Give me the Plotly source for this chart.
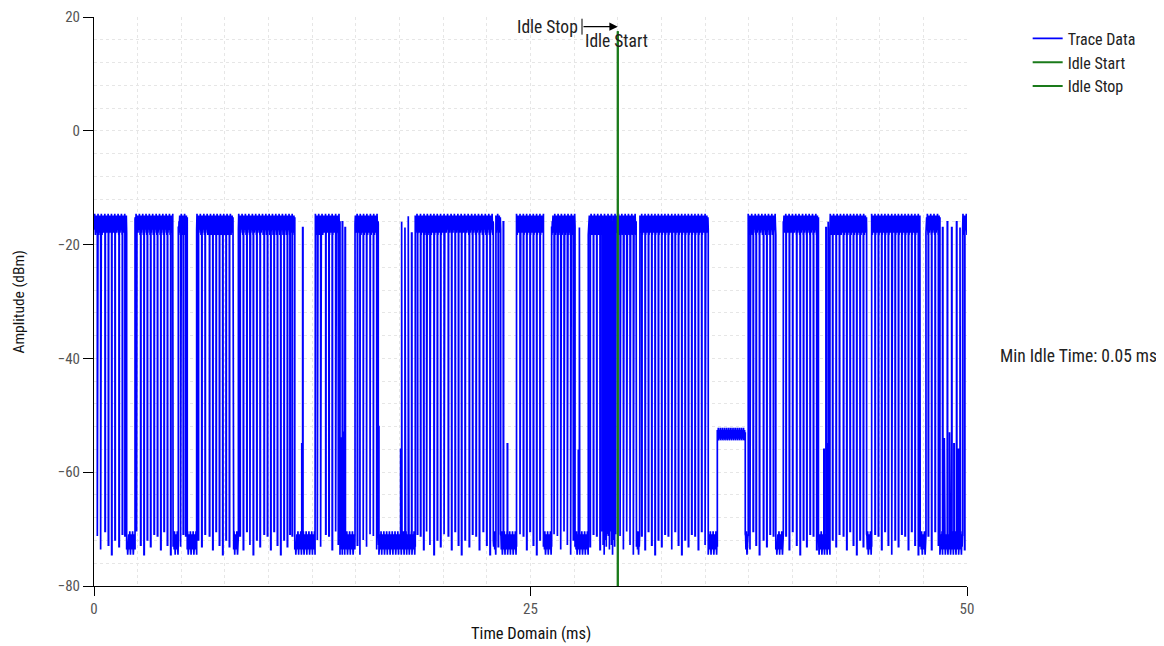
import plotly.graph_objects as go

# ---- data (time in ms, level in dBm) ----
burst_start = [0.00, 2.35, 4.83, 5.88, 8.27, 12.66, 14.95, 18.40, 23.02, 24.20,
               26.21, 28.31, 31.25, 37.47, 39.48, 42.15, 44.54, 47.65, 49.75]
burst_end   = [1.87, 4.51, 5.34, 7.96, 11.50, 14.09, 16.28, 22.87, 23.29, 25.74,
               27.55, 31.05, 35.18, 39.05, 41.49, 44.25, 47.30, 48.45, 50.00]

# short drops to the floor inside the bursts
dips = [0.19, 0.38, 0.63, 0.82, 1.01, 1.20, 1.43, 1.62, 1.77,
        2.44, 2.67, 2.86, 3.05, 3.24, 3.44, 3.63, 3.82, 4.01, 4.20, 4.39,
        4.96, 5.11, 5.25,
        5.97, 6.17, 6.36, 6.61, 6.80, 6.99, 7.18, 7.37, 7.56, 7.75,
        8.36, 8.55, 8.75, 8.93, 9.12, 9.32, 9.51, 9.74, 9.93, 10.12, 10.31,
        10.50, 10.69, 10.88, 11.07, 11.22, 11.35,
        12.79, 12.98, 13.27, 13.45, 13.64, 13.84, 13.99,
        15.08, 15.23, 15.42, 15.61, 15.81, 16.00, 16.19,
        18.52, 18.70, 18.88, 19.05, 19.24, 19.47, 19.66, 19.85, 20.05, 20.29,
        20.48, 20.68, 20.87, 21.05, 21.25, 21.49, 21.68, 21.88, 22.07, 22.29,
        22.49, 22.68,
        23.15,
        24.40, 24.59, 24.78, 24.97, 25.16, 25.35, 25.54,
        26.35, 26.54, 26.73, 26.92, 27.11, 27.30, 27.45,
        28.41, 28.60, 28.79, 28.98, 29.10, 29.16, 29.22, 29.28, 29.34, 29.40,
        29.46, 29.52, 29.58, 29.64, 29.70, 29.76, 29.82, 29.88, 30.13, 30.32,
        30.51, 30.70, 30.89,
        31.37, 31.56, 31.75, 31.94, 32.13, 32.32, 32.51, 32.70, 32.89, 33.09,
        33.28, 33.47, 33.66, 33.85, 34.04, 34.23, 34.42, 34.61, 34.80, 35.00,
        37.57, 37.75, 37.92, 38.11, 38.34, 38.53, 38.72, 38.91,
        39.63, 39.82, 40.01, 40.24, 40.44, 40.63, 40.82, 41.01, 41.20, 41.39,
        42.30, 42.50, 42.69, 42.92, 43.11, 43.30, 43.49, 43.68, 43.87, 44.06,
        44.73, 44.92, 45.11, 45.30, 45.49, 45.69, 45.88, 46.07, 46.26, 46.45,
        46.64, 46.83, 47.02, 47.21,
        47.78, 47.97, 48.17, 48.36,
        49.86]

# isolated spikes rising out of the quiet gaps
spike_t  = [11.90, 11.95, 14.12, 14.17, 14.22, 14.27, 14.32, 14.38, 16.30, 17.56,
            17.62, 17.81, 18.00, 18.19, 23.44, 23.67, 27.74, 27.80, 41.80, 41.92,
            41.95, 42.05, 48.60, 48.70, 48.87, 49.00, 49.12, 49.25, 49.40, 49.50,
            49.60]
spike_db = [-55, -17, -54, -56, -16, -53, -57, -17, -52, -56,
            -16, -17, -15, -18, -16, -55, -56, -17, -56, -17,
            -55, -16, -17, -54, -16, -53, -17, -55, -16, -56,
            -17]

# the -53 dBm shelf after the last long gap
shelf_start, shelf_end = 35.70, 37.30

hi_noise  = [-15.2, -17.4, -14.6, -16.8, -18.3, -15.9, -16.4, -14.9, -17.9, -15.5]
lo_noise  = [-71.2, -73.6, -70.4, -72.8, -74.5, -71.9, -73.1, -70.9]
mid_noise = [-52.6, -54.1, -53.0, -52.2, -54.4, -53.3]

idle_time = 30.0
SAMPLE = 0.02   # ms between drawn samples
DIP_W = 0.02

t_pts, y_pts = [], []
ctr = {"hi": 0, "lo": 0, "mid": 0}
src = {"hi": hi_noise, "lo": lo_noise, "mid": mid_noise}


def lvl(kind):
    v = src[kind][ctr[kind] % len(src[kind])]
    ctr[kind] += 1
    return v


def fuzz(t0, t1, kind):
    t = t0
    while t < t1 - 1e-9:
        t_pts.append(round(t, 4)); y_pts.append(lvl(kind))
        t += SAMPLE
    t_pts.append(t1); y_pts.append(lvl(kind))


def high(t0, t1):
    a = t0
    for d in [d for d in dips if t0 < d < t1]:
        fuzz(a, d, "hi")
        y = lvl("lo")
        t_pts.extend([d, d + DIP_W]); y_pts.extend([y, y])
        a = d + DIP_W
    fuzz(a, t1, "hi")


def low(t0, t1):
    a = t0
    for s, p in zip(spike_t, spike_db):
        if t0 < s < t1:
            fuzz(a, s, "lo")
            t_pts.extend([s, s + DIP_W]); y_pts.extend([p, p])
            a = s + DIP_W
    fuzz(a, t1, "lo")


prev = 0.0
for s, e in zip(burst_start, burst_end):
    if s > prev:
        if prev < shelf_start < s:
            low(prev, shelf_start)
            fuzz(shelf_start, shelf_end, "mid")
            low(shelf_end, s)
        else:
            low(prev, s)
    high(s, e)
    prev = e

FONT = "Liberation Sans Narrow, Arial Narrow, Roboto Condensed, Roboto, sans-serif"

fig = go.Figure()
fig.add_trace(go.Scatter(x=t_pts, y=y_pts, mode="lines", name="Trace Data",
                         line=dict(color="#0000ff", width=1.7)))
fig.add_trace(go.Scatter(x=[idle_time, idle_time], y=[-80, 17.5], mode="lines",
                         name="Idle Start", line=dict(color="#1a7a1a", width=2)))
fig.add_trace(go.Scatter(x=[idle_time, idle_time], y=[-80, 17.5], mode="lines",
                         name="Idle Stop", line=dict(color="#1a7a1a", width=2)))

grid = dict(showgrid=True, gridcolor="#e6e6e6", griddash="dot", gridwidth=1)
fig.update_xaxes(range=[0, 50], tickvals=[0, 25, 50], ticks="outside", ticklen=9,
                 tickcolor="black", showline=True, linecolor="black", linewidth=1,
                 zeroline=False, tickfont=dict(family=FONT, size=15, color="#555"),
                 minor=dict(dtick=2.5, **grid), **grid)
fig.update_yaxes(range=[-80, 20], dtick=20, ticks="outside", ticklen=10,
                 tickcolor="black", showline=True, linecolor="black", linewidth=1,
                 zeroline=False, tickfont=dict(family=FONT, size=15, color="#555"),
                 minor=dict(dtick=4, **grid), **grid)

fig.add_shape(type="line", x0=27.95, x1=27.95, y0=16.9, y1=19.7,
              line=dict(color="black", width=1))
fig.add_annotation(x=idle_time, y=18.3, ax=27.95, ay=18.3, xref="x", yref="y",
                   axref="x", ayref="y", text="", showarrow=True, arrowhead=2,
                   arrowsize=1.4, arrowwidth=1.2, arrowcolor="black")
fig.add_annotation(x=27.85, y=18.3, text="Idle Stop", showarrow=False,
                   xanchor="right", font=dict(family=FONT, size=17.5, color="#222"))
fig.add_annotation(x=28.0, y=15.8, text="Idle Start", showarrow=False,
                   xanchor="left", font=dict(family=FONT, size=17.5, color="#222"))
fig.add_annotation(x=1.0355, y=0.404, xref="paper", yref="paper",
                   text="Min Idle Time: 0.05 ms", showarrow=False, xanchor="left",
                   font=dict(family=FONT, size=17.5, color="#222"))
fig.add_annotation(x=0.5, y=-0.084, xref="paper", yref="paper", yanchor="middle",
                   text="Time Domain (ms)", showarrow=False,
                   font=dict(family=FONT, size=16.5, color="#111"))
fig.add_annotation(x=-0.087, y=0.5, xref="paper", yref="paper", textangle=-90,
                   xanchor="center", yanchor="middle",
                   text="Amplitude (dBm)", showarrow=False,
                   font=dict(family=FONT, size=15.5, color="#111"))

# the page adds an 8 px body margin, so the margins are shifted to compensate
fig.update_layout(
    width=1164, height=646,
    margin=dict(l=86, r=205, t=9, b=68, autoexpand=False),
    paper_bgcolor="white", plot_bgcolor="white",
    legend=dict(x=1.0695, y=0.992, xanchor="left", yanchor="top",
                font=dict(family=FONT, size=16, color="#222"),
                bgcolor="rgba(0,0,0,0)", tracegroupgap=0),
)

fig.write_html("out.html")
